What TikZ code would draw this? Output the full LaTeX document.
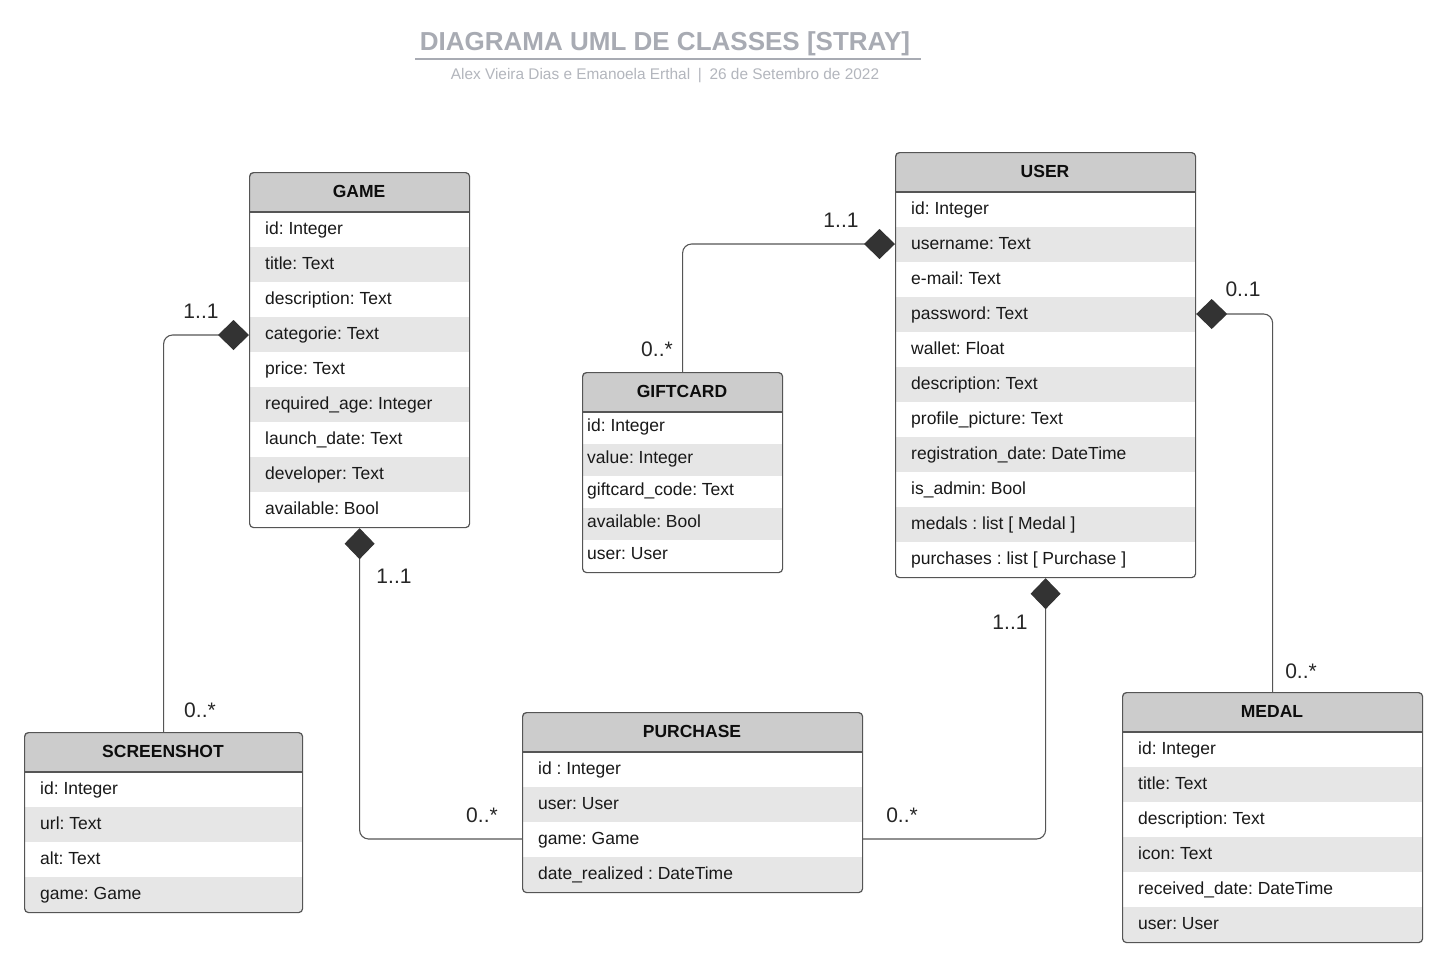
\documentclass[tikz,border=0pt]{standalone}
\usepackage{fontspec}
\setmainfont{Liberation Sans}
\usetikzlibrary{arrows.meta}
\definecolor{hdrgray}{HTML}{CCCCCC}
\definecolor{rowgray}{HTML}{E6E6E6}
\definecolor{linegray}{HTML}{555555}
\definecolor{titlegray}{HTML}{A8ABB3}
\definecolor{subgray}{HTML}{B3B6BD}
\definecolor{dcol}{HTML}{333333}
\frenchspacing
\tikzset{
 attr/.style={font=\fontsize{17.5}{20}\selectfont, text=black!90, inner sep=0pt, anchor=base west},
 hdr/.style={font=\fontsize{17.5}{20}\selectfont\bfseries, text=black!95, inner sep=0pt, anchor=base},
 mult/.style={font=\fontsize{21}{24}\selectfont, text=black!85, inner sep=0pt},
 conn/.style={draw=linegray, line width=1.1pt, rounded corners=9pt, -{Diamond[length=31pt,width=30pt,fill=dcol,color=dcol,sharp]}},
 boxborder/.style={draw=linegray, line width=1.2pt, rounded corners=4pt},
}
\newcommand{\umlclass}[9]{%
  \pgfmathsetmacro\uh{#7*#5+40}%
  \pgfmathsetmacro\ubot{#3+\uh}%
  \begin{scope}
    \clip[rounded corners=4pt] (#2,#3) rectangle (#2+#4,\ubot);
    \fill[hdrgray] (#2,#3) rectangle (#2+#4,#3+40);
    \foreach[count=\i] \t in {#9}{
      \pgfmathsetmacro\ya{#3+40+(\i-1)*#5}
      \ifodd\i\relax\def\fc{white}\else\def\fc{rowgray}\fi
      \fill[fill=\fc] (#2,\ya) rectangle (#2+#4,\ya+#5);
    }
  \end{scope}
  \foreach[count=\i] \t in {#9}{
      \pgfmathsetmacro\ym{#3+40+(\i-1)*#5+#5-19+6.3}
      \node[attr] (#1-r\i) at (#2+#6,\ym) {\t};
  }
  \draw[linegray, line width=1.2pt] (#2,#3+40) -- (#2+#4,#3+40);
  \node[hdr] (#1-h) at (#2+#4/2,#3+25.5) {#8};
  \node[boxborder, inner sep=0pt, minimum width=#4pt, minimum height=\uh pt, anchor=north west] (#1) at (#2,#3) {};
}
\begin{document}
\begin{tikzpicture}[x=1pt,y=-1pt]
\useasboundingbox[fill=white] (0,0) rectangle (1445,964);

% title
\node[font=\fontsize{26}{30}\selectfont\bfseries, text=titlegray, inner sep=0pt, anchor=base] (title) at (665,50.5) {DIAGRAMA UML DE CLASSES [STRAY]};
\coordinate (ulA) at (415,59);
\coordinate (ulB) at (921,59);
\draw[titlegray, line width=2pt] (ulA) -- (ulB);
\node[font=\fontsize{15.4}{18}\selectfont, text=subgray, inner sep=0pt, anchor=base] (subtitle) at (665,79.5) {Alex Vieira Dias e Emanoela Erthal\enspace|\enspace 26 de Setembro de 2022};

% classes
\umlclass{game}{249}{172}{220}{35}{16}{9}{GAME}{id: Integer,title: Text,description: Text,categorie: Text,price: Text,required\_age: Integer,launch\_date: Text,developer: Text,available: Bool}
\umlclass{user}{895}{152}{300}{35}{16}{11}{USER}{id: Integer,username: Text,e-mail: Text,password: Text,wallet: Float,description: Text,profile\_picture: Text,registration\_date: DateTime,is\_admin: Bool,medals : list [ Medal ],purchases : list [ Purchase ]}
\umlclass{gift}{582}{372}{200}{32}{5}{5}{GIFTCARD}{id: Integer,value: Integer,giftcard\_code: Text,available: Bool,user: User}
\umlclass{scr}{24}{732}{278}{35}{16}{4}{SCREENSHOT}{id: Integer,url: Text,alt: Text,game: Game}
\umlclass{purch}{522}{712}{340}{35}{16}{4}{PURCHASE}{id : Integer,user: User,game: Game,date\_realized : DateTime}
\umlclass{medal}{1122}{692}{300}{35}{16}{6}{MEDAL}{id: Integer,title: Text,description: Text,icon: Text,received\_date: DateTime,user: User}

% connectors
\draw[conn] (scr.north) |- (game.west |- 0,335);
\draw[conn] (gift.north) |- (user.west |- 0,244);
\draw[conn] (medal.north) |- (user.east |- 0,314);
\draw[conn] (purch.west |- 0,839) -| (game.south);
\draw[conn] (purch.east |- 0,839) -| (user.south);

% multiplicities
\node[mult] (m1) at (201,311) {1..1};
\node[mult] (m2) at (200,710) {0..*};
\node[mult] (m3) at (841,220) {1..1};
\node[mult] (m4) at (657,349) {0..*};
\node[mult] (m5) at (1243,289) {0..1};
\node[mult] (m6) at (1301,671) {0..*};
\node[mult] (m7) at (394,576) {1..1};
\node[mult] (m8) at (482,815) {0..*};
\node[mult] (m9) at (1010,622) {1..1};
\node[mult] (m10) at (902,815) {0..*};
\end{tikzpicture}
\end{document}
